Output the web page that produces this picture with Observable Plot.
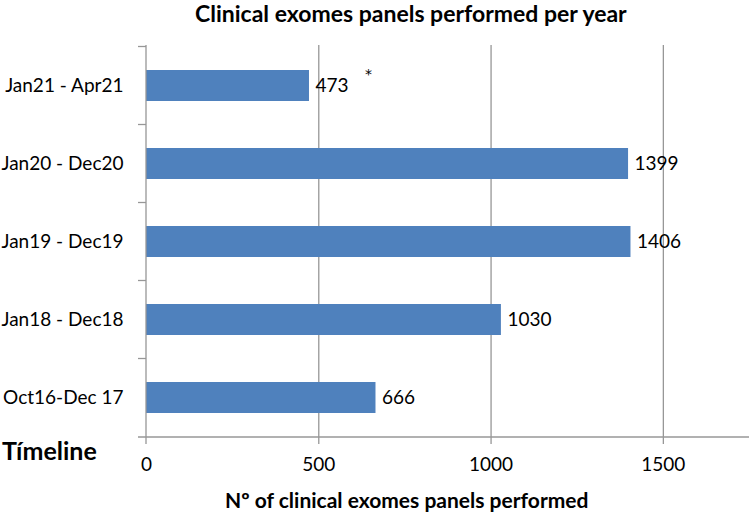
<!DOCTYPE html>
<html>
<head>
<meta charset="utf-8">
<script src="https://cdn.jsdelivr.net/npm/d3@7"></script>
<script src="https://cdn.jsdelivr.net/npm/@observablehq/plot@0.6"></script>
<style>
  html, body { margin: 0; padding: 0; background: #fff; }
  #wrap { position: relative; width: 749px; height: 512px; font-family: Lato, "Open Sans", sans-serif; }
  .ov { position: absolute; white-space: nowrap; color: #000; font-weight: bold; line-height: 1; }
</style>
</head>
<body>
<div id="wrap">
  <div class="ov" id="title" style="left:195px;top:2px;font-size:23px;">Clinical exomes panels performed per year</div>
  <div class="ov" id="ylab" style="left:2px;top:438px;font-size:25px;">Tímeline</div>
  <div class="ov" id="xlab" style="left:225px;top:489px;font-size:21px;">Nº of clinical exomes panels performed</div>
</div>
<script>
const periods = ["Jan21 - Apr21", "Jan20 - Dec20", "Jan19 - Dec19", "Jan18 - Dec18", "Oct16-Dec 17"];
const panels = [473, 1399, 1406, 1030, 666];
const xTicks = [0, 500, 1000, 1500];
const notes = [{period: "Jan21 - Apr21", note: "*"}];

const data = periods.map((p, i) => ({period: p, value: panels[i]}));
const noteData = notes.map(n => ({...n, value: panels[periods.indexOf(n.period)]}));

const gray = "#979797";
const pIn = 0.605;

function axisLines(index, scales, values, dims) {
  const g = d3.create("svg:g").attr("stroke", gray).attr("stroke-width", 1.3).attr("fill", "none");
  const x0 = scales.x(0);
  const top = dims.marginTop;
  const bottom = dims.height - dims.marginBottom;
  const right = dims.width - dims.marginRight;
  g.append("line").attr("x1", x0).attr("x2", x0).attr("y1", top).attr("y2", bottom + 7);
  g.append("line").attr("x1", x0 - 8).attr("x2", right).attr("y1", bottom).attr("y2", bottom);
  const bw = scales.y.bandwidth ? scales.y.bandwidth() : 0;
  const centers = periods.map(p => scales.y(p) + bw / 2);
  const step = centers.length > 1 ? centers[1] - centers[0] : 0;
  centers.forEach(c => {
    const b = c - step / 2;
    g.append("line").attr("x1", x0 - 8).attr("x2", x0).attr("y1", b).attr("y2", b);
  });
  return g.node();
}

const chart = Plot.plot({
  width: 749,
  height: 512,
  marginLeft: 146,
  marginRight: 0,
  marginTop: 45,
  marginBottom: 75,
  style: {fontFamily: "Lato, 'Open Sans', sans-serif", fontSize: "19px", color: "#000", background: "#fff"},
  x: {domain: [0, 1750], ticks: xTicks, label: null},
  y: {domain: periods, paddingInner: pIn, paddingOuter: pIn / 2, label: null},
  marks: [
    Plot.ruleX(xTicks.slice(1), {stroke: gray, strokeWidth: 1.3, insetBottom: -7}),
    Plot.barX(data, {y: "period", x: "value", fill: "#4F81BD"}),
    axisLines,
    Plot.axisX({ticks: xTicks, tickSize: 0, tickPadding: 20, fontSize: 19, label: null, tickFormat: d => String(d)}),
    Plot.axisY({tickSize: 0, tickPadding: 23, fontSize: 19, label: null}),
    Plot.text(data, {y: "period", x: "value", text: d => String(d.value), dx: 6, textAnchor: "start", fontSize: 19, fill: "#000"}),
    Plot.text(noteData, {y: "period", x: "value", text: "note", dx: 59, dy: -11, textAnchor: "middle", fontSize: 14, fontFamily: "DejaVu Sans", fill: "#000"})
  ]
});
chart.style.position = "absolute";
chart.style.left = "0";
chart.style.top = "0";
const wrap = document.getElementById("wrap");
wrap.insertBefore(chart, wrap.firstChild);
</script>
</body>
</html>
